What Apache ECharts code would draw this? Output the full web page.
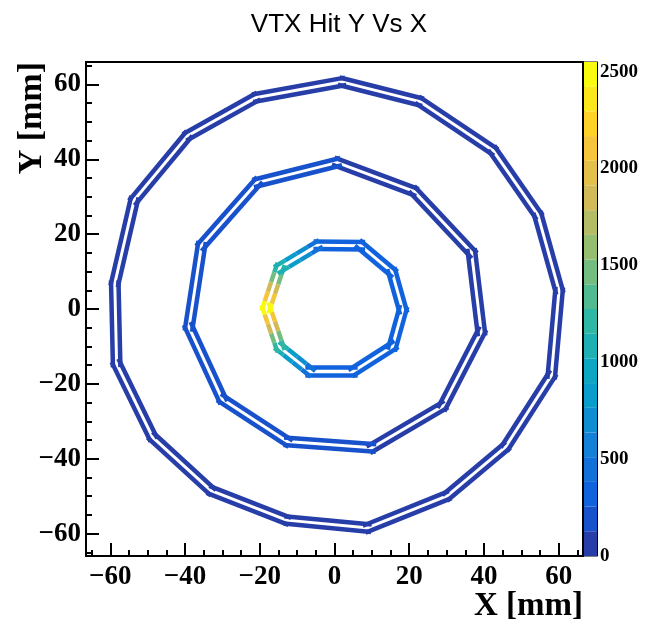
<!DOCTYPE html>
<html>
<head>
<meta charset="utf-8">
<script src="https://cdn.jsdelivr.net/npm/echarts@6/dist/echarts.min.js"></script>
<style>
  html, body { margin: 0; padding: 0; background: #fff; }
  #chart { width: 654px; height: 628px; }
</style>
</head>
<body>
<div id="chart"></div>
<script>
// Ladder corner points of the three VTX layers (mm), clockwise from the top
const innerCorners = [[-5.0, 18.6], [7.6, 18.5], [16.8, 10.8], [19.9, -0.2], [16.9, -11.0],
                      [5.6, -18.2], [-7.2, -18.2], [-16.0, -11.2], [-19.9, 0.3], [-16.0, 12.0]];
const middleCorners = [[0.8, 40.8], [22.2, 32.8], [38.2, 15.8], [40.9, -6.4], [30.2, -27.1], [10.4, -38.7],
                       [-13.1, -37.0], [-31.3, -25.2], [-40.6, -5.1], [-37.1, 17.7], [-21.6, 35.2]];
const outerCorners = [[2.1, 62.3], [23.5, 56.9], [43.6, 43.5], [55.9, 25.8], [61.7, 5.1], [59.6, -18.3],
                      [47.0, -37.9], [31.0, -51.3], [9.1, -60.1], [-13.1, -58.0], [-33.9, -49.9], [-50.0, -35.2],
                      [-59.9, -15.0], [-60.4, 7.0], [-55.1, 29.8], [-40.4, 47.5], [-21.6, 58.0]];

// Hits per ladder, listed along each ladder from its first corner to the next
const innerHits = [[300], [280], [270], [270], [300], [320],
                   [450, 650, 850, 1050],
                   [1200, 1500, 1800, 2100, 2450],
                   [2450, 2100, 1800, 1500, 1200],
                   [1050, 850, 650, 450]];
const middleHits = [[110], [100], [110], [120], [120], [140], [180], [210], [210], [190], [130]];
const outerHits = [[90], [90], [90], [90], [90], [90], [90], [90], [90], [90], [90], [90], [90], [90], [90], [90], [90]];

// Axis ticks
const xMajorTicks = [-60, -40, -20, 0, 20, 40, 60];
const yMajorTicks = [-60, -40, -20, 0, 20, 40, 60];
const zTicks = [0, 500, 1000, 1500, 2000, 2500];

const zMax = 2550;
const nLevels = 20;
const faceOffsets = [0.6, 2.6];   // two sensor faces per ladder, inward from the corner line (mm)
const ladderOverhang = 0.6;       // mm

// ROOT kBird palette
const birdStops = [0, 0.125, 0.25, 0.375, 0.5, 0.625, 0.75, 0.875, 1];
const birdR = [0.2082, 0.0592, 0.0780, 0.0232, 0.1802, 0.5301, 0.8186, 0.9956, 0.9764];
const birdG = [0.1664, 0.3599, 0.5041, 0.6419, 0.7178, 0.7492, 0.7328, 0.7862, 0.9832];
const birdB = [0.5293, 0.8684, 0.8385, 0.7914, 0.6425, 0.4662, 0.3499, 0.1968, 0.0539];

function bird(f) {
  f = Math.max(0, Math.min(1, f));
  let k = 0;
  while (k < birdStops.length - 2 && f > birdStops[k + 1]) k++;
  const t = (f - birdStops[k]) / (birdStops[k + 1] - birdStops[k]);
  const c = a => Math.round(255 * (a[k] + (a[k + 1] - a[k]) * t));
  return 'rgb(' + c(birdR) + ',' + c(birdG) + ',' + c(birdB) + ')';
}
function levelColor(j) {
  const idx = Math.floor((j + 0.99) * 255 / nLevels);
  return bird(idx / 254);
}
function valueColor(v) {
  const j = Math.min(nLevels - 1, Math.floor(v / (zMax / nLevels)));
  return levelColor(j);
}

// Double-sided ladders: each face split into pieces carrying their hit counts
function ladderLines(corners, hits) {
  const out = [];
  const n = corners.length;
  for (let i = 0; i < n; i++) {
    const p0 = corners[i], p1 = corners[(i + 1) % n];
    const dx = p1[0] - p0[0], dy = p1[1] - p0[1];
    const len = Math.hypot(dx, dy);
    const ux = dx / len, uy = dy / len;
    const nx = uy, ny = -ux; // inward normal for clockwise order
    const a = [p0[0] - ux * ladderOverhang, p0[1] - uy * ladderOverhang];
    const b = [p1[0] + ux * ladderOverhang, p1[1] + uy * ladderOverhang];
    const h = hits[i];
    faceOffsets.forEach(off => {
      for (let k = 0; k < h.length; k++) {
        const t0 = k / h.length, t1 = (k + 1) / h.length;
        out.push({
          coords: [
            [a[0] + (b[0] - a[0]) * t0 + nx * off, a[1] + (b[1] - a[1]) * t0 + ny * off],
            [a[0] + (b[0] - a[0]) * t1 + nx * off, a[1] + (b[1] - a[1]) * t1 + ny * off]
          ],
          value: h[k],
          lineStyle: { color: valueColor(h[k]) }
        });
      }
    });
  }
  return out;
}

const hitLines = [].concat(
  ladderLines(outerCorners, outerHits),
  ladderLines(middleCorners, middleHits),
  ladderLines(innerCorners, innerHits)
);

const minorX = [], minorY = [];
for (let v = -65; v <= 65; v += 5) { minorX.push(v); minorY.push(v); }

const serif = 'Liberation Serif';
const minus = v => String(v).replace('-', '\u2212');
const black = '#000';
const frameLine = { show: true, onZero: false, lineStyle: { color: black, width: 2 } };
const hiddenLine = { show: false, onZero: false };

const paletteSeries = [];
for (let j = 0; j < nLevels; j++) {
  paletteSeries.push({
    type: 'bar', xAxisIndex: 2, yAxisIndex: 2, stack: 'palette',
    barWidth: '100%', silent: true,
    data: [zMax / nLevels],
    itemStyle: { color: levelColor(j) }
  });
}

const chart = echarts.init(document.getElementById('chart'), null, { renderer: 'canvas' });
chart.setOption({
  animation: false,
  backgroundColor: '#fff',
  title: {
    text: 'VTX Hit Y Vs X',
    left: 334, top: 7, textAlign: 'center',
    textStyle: { fontFamily: 'Liberation Sans', fontSize: 26, fontWeight: 'normal', color: black }
  },
  grid: [
    { left: 86, top: 62, width: 497, height: 494, show: true, borderColor: black, borderWidth: 2, backgroundColor: 'transparent' },
    { left: 584, top: 62, width: 13, height: 494, show: true, borderColor: black, borderWidth: 1, backgroundColor: 'transparent' }
  ],
  xAxis: [
    {
      type: 'value', gridIndex: 0, min: -66.5, max: 66.5, position: 'bottom',
      splitLine: { show: false }, axisLine: frameLine,
      axisTick: { inside: true, length: 13, customValues: xMajorTicks, lineStyle: { color: black, width: 2 } },
      axisLabel: { customValues: xMajorTicks, formatter: minus, color: black, fontFamily: serif, fontWeight: 'bold', fontSize: 27, margin: 8 }
    },
    {
      type: 'value', gridIndex: 0, min: -66.5, max: 66.5, position: 'bottom',
      splitLine: { show: false }, axisLine: hiddenLine,
      axisTick: { inside: true, length: 6, customValues: minorX, lineStyle: { color: black, width: 2 } },
      axisLabel: { show: false }
    },
    { type: 'category', gridIndex: 1, data: ['z'], show: false }
  ],
  yAxis: [
    {
      type: 'value', gridIndex: 0, min: -66, max: 66, position: 'left',
      splitLine: { show: false }, axisLine: frameLine,
      axisTick: { inside: true, length: 13, customValues: yMajorTicks, lineStyle: { color: black, width: 2 } },
      axisLabel: { customValues: yMajorTicks, formatter: minus, color: black, fontFamily: serif, fontWeight: 'bold', fontSize: 27, margin: 5 }
    },
    {
      type: 'value', gridIndex: 0, min: -66, max: 66, position: 'left',
      splitLine: { show: false }, axisLine: hiddenLine,
      axisTick: { inside: true, length: 6, customValues: minorY, lineStyle: { color: black, width: 2 } },
      axisLabel: { show: false }
    },
    {
      type: 'value', gridIndex: 1, min: 0, max: zMax, position: 'right',
      splitLine: { show: false },
      axisLine: { show: true, lineStyle: { color: black, width: 1 } },
      axisTick: { inside: true, length: 8, customValues: zTicks, lineStyle: { color: black, width: 2 } },
      axisLabel: { customValues: zTicks, formatter: v => String(v), color: black, fontFamily: serif, fontWeight: 'bold', fontSize: 19, margin: 3 }
    }
  ],
  graphic: [
    {
      type: 'text', right: 71, top: 590,
      style: { text: 'X [mm]', font: 'bold 33px "Liberation Serif"', fill: black }
    },
    {
      type: 'text', x: 32, y: 62, rotation: Math.PI / 2,
      style: { text: 'Y [mm]', font: 'bold 34px "Liberation Serif"', fill: black, align: 'right', verticalAlign: 'middle' }
    }
  ],
  series: [
    {
      type: 'lines',
      coordinateSystem: 'cartesian2d',
      xAxisIndex: 0, yAxisIndex: 0,
      silent: true,
      lineStyle: { width: 4.5, opacity: 1, curveness: 0, cap: 'butt' },
      data: hitLines
    }
  ].concat(paletteSeries)
});
</script>
</body>
</html>
